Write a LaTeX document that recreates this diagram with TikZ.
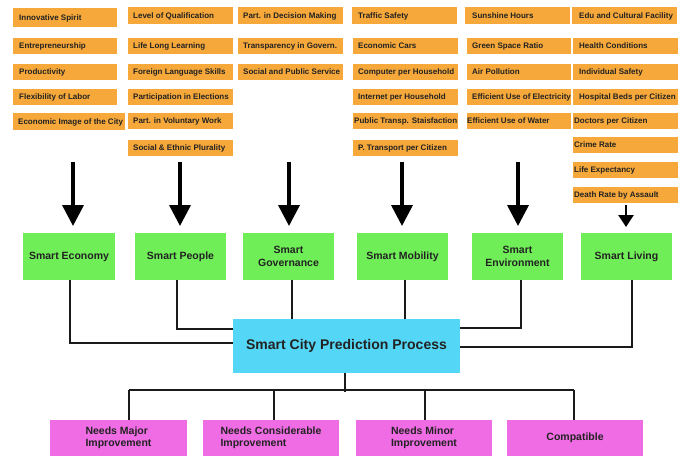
\documentclass[tikz,border=0pt]{standalone}
\usepackage{fontspec}
\setmainfont{Liberation Sans}
\usetikzlibrary{arrows.meta}
\definecolor{orng}{HTML}{F6A83A}
\definecolor{grn}{HTML}{70EE58}
\definecolor{blu}{HTML}{54D6F6}
\definecolor{mag}{HTML}{F06CE4}
\definecolor{txtc}{HTML}{222222}
\definecolor{lnc}{HTML}{1A1A1A}
\newcommand\obx[7]{%
  \node[obox, minimum width={#4pt-#2pt}, minimum height={#5pt-#3pt}] (#1) at (#2,#3) {};
  \node[otext] (#1t) at (#6,{(#3+#5)/2}) {#7};}
\begin{document}
\begin{tikzpicture}[x=1pt,y=-1pt,
  obox/.style={fill=orng, inner sep=0pt, outer sep=0pt, anchor=north west},
  otext/.style={font=\bfseries\fontsize{8}{9}\selectfont, text=txtc, inner sep=0pt, anchor=west, text height=5.8pt, text depth=0pt},
  gbox/.style={fill=grn, minimum width=91pt, minimum height=47pt, inner sep=1pt, outer sep=0pt, align=center, font=\bfseries\fontsize{10.5}{13}\selectfont, text=txtc},
  bbox/.style={fill=blu, minimum width=227pt, minimum height=54pt, inner sep=1pt, outer sep=0pt, font=\bfseries\fontsize{14}{16}\selectfont, text=txtc},
  mbox/.style={fill=mag, minimum width=136pt, minimum height=35.5pt, inner sep=1pt, outer sep=0pt, align=left, font=\bfseries\fontsize{10.5}{12.5}\selectfont, text=txtc},
  conn/.style={draw=lnc, line width=1.6pt},
  bigarrow/.style={draw=black, line width=3.6pt, -{Triangle[width=21pt,length=21pt]}},
  smallarrow/.style={draw=black, line width=2.6pt, -{Triangle[width=15pt,length=12pt]}},
]
\useasboundingbox (0,0) rectangle (685,455);
\fill[white] (0,0) rectangle (685,455);
% column 1
\obx{i1}{13}{8}{117}{27}{19}{Innovative Spirit}
\obx{i2}{13}{38}{117}{54}{19}{Entrepreneurship}
\obx{i3}{13}{64}{117}{80}{19}{Productivity}
\obx{i4}{13}{89}{117}{105}{19}{Flexibility of Labor}
\obx{i5}{13}{113}{125}{130}{18}{Economic Image of the City}
% column 2
\obx{p1}{128}{7}{233}{24}{133}{Level of Qualification}
\obx{p2}{128}{38}{233}{54}{133}{Life Long Learning}
\obx{p3}{128}{64}{233}{80}{133}{Foreign Language Skills}
\obx{p4}{128}{89}{233}{105}{133}{Participation in Elections}
\obx{p5}{128}{113}{233}{129}{133}{Part. in Voluntary Work}
\obx{p6}{128}{140}{233}{156}{133}{Social \& Ethnic Plurality}
% column 3
\obx{g1}{238}{7}{343}{24}{243}{Part. in Decision Making}
\obx{g2}{238}{38}{343}{54}{243}{Transparency in Govern.}
\obx{g3}{238}{64}{343}{80}{243}{Social and Public Service}
% column 4
\obx{t1}{352}{7}{457}{24}{358}{Traffic Safety}
\obx{t2}{353}{38}{458}{54}{358}{Economic Cars}
\obx{t3}{353}{64}{458}{80}{358}{Computer per Household}
\obx{t4}{353}{89}{458}{105}{358}{Internet per Household}
\obx{t5}{353}{113}{458}{129}{354}{Public Transp. Staisfaction}
\obx{t6}{353}{140}{458}{156}{358}{P. Transport per Citizen}
% column 5
\obx{e1}{465}{7}{570}{24}{472}{Sunshine Hours}
\obx{e2}{467}{38}{571}{54}{472}{Green Space Ratio}
\obx{e3}{467}{64}{571}{80}{472}{Air Pollution}
\obx{e4}{467}{89}{571}{105}{472}{Efficient Use of Electricity}
\obx{e5}{467}{113}{571}{129}{467}{Efficient Use of Water}
% column 6
\obx{l1}{572}{7}{677}{24}{579}{Edu and Cultural Facility}
\obx{l2}{573}{38}{678}{54}{579}{Health Conditions}
\obx{l3}{573}{64}{678}{80}{579}{Individual Safety}
\obx{l4}{573}{89}{678}{105}{579}{Hospital Beds per Citizen}
\obx{l5}{573}{113}{678}{129}{574}{Doctors per Citizen}
\obx{l6}{573}{137}{678}{153}{574}{Crime Rate}
\obx{l7}{573}{162}{678}{178}{574}{Life Expectancy}
\obx{l8}{573}{187}{678}{203}{574}{Death Rate by Assault}
% arrows
\coordinate (a1s) at (73,162);  \coordinate (a1e) at (73,226);
\coordinate (a2s) at (180,162); \coordinate (a2e) at (180,226);
\coordinate (a3s) at (289,162); \coordinate (a3e) at (289,226);
\coordinate (a4s) at (402,162); \coordinate (a4e) at (402,226);
\coordinate (a5s) at (518,162); \coordinate (a5e) at (518,226);
\coordinate (a6s) at (626,205); \coordinate (a6e) at (626,227);
\draw[bigarrow] (a1s) -- (a1e);
\draw[bigarrow] (a2s) -- (a2e);
\draw[bigarrow] (a3s) -- (a3e);
\draw[bigarrow] (a4s) -- (a4e);
\draw[bigarrow] (a5s) -- (a5e);
\draw[smallarrow] (a6s) -- (a6e);
% green boxes
\node[gbox, minimum width=92pt] (ge) at (69,256.5) {Smart Economy};
\node[gbox] (gp) at (180.5,256.5) {Smart People};
\node[gbox] (gg) at (288.5,256.5) {Smart\\Governance};
\node[gbox] (gm) at (402.5,256.5) {Smart Mobility};
\node[gbox] (gv) at (517.5,256.5) {Smart\\Environment};
\node[gbox] (gl) at (626.5,256.5) {Smart Living};
% central box
\node[bbox] (sc) at (346.5,346) {Smart City Prediction Process};
% connectors to the centre
\draw[conn] ([xshift=1pt]ge.south) |- ([yshift=3pt]sc.west);
\draw[conn] ([xshift=-3.5pt]gp.south) |- ([yshift=17pt]sc.west);
\draw[conn] ([xshift=3.5pt]gg.south) -- ([xshift=3.5pt]gg.south |- sc.north);
\draw[conn] ([xshift=2.5pt]gm.south) -- ([xshift=2.5pt]gm.south |- sc.north);
\draw[conn] ([xshift=3.5pt]gv.south) |- ([yshift=18pt]sc.east);
\draw[conn] ([xshift=5.5pt]gl.south) |- ([yshift=-1pt]sc.east);
% result boxes
\node[mbox, minimum width=137pt] (m1) at (118.5,437.75) {Needs Major\\Improvement};
\node[mbox] (m2) at (271,437.75) {Needs Considerable\\Improvement};
\node[mbox] (m3) at (424,437.75) {Needs Minor\\Improvement};
\node[mbox] (m4) at (575,437.75) {Compatible};
% bus
\coordinate (d1) at (129,390);
\coordinate (d2) at (274,390);
\coordinate (d3) at (425,390);
\coordinate (d4) at (574,390);
\draw[conn] (d1) -- (d4);
\draw[conn] ([xshift=-1.5pt]sc.south) -- ++(0,19);
\draw[conn] (d1) -- (d1 |- m1.north);
\draw[conn] (d2) -- (d2 |- m2.north);
\draw[conn] (d3) -- (d3 |- m3.north);
\draw[conn] (d4) -- (d4 |- m4.north);
\end{tikzpicture}
\end{document}
